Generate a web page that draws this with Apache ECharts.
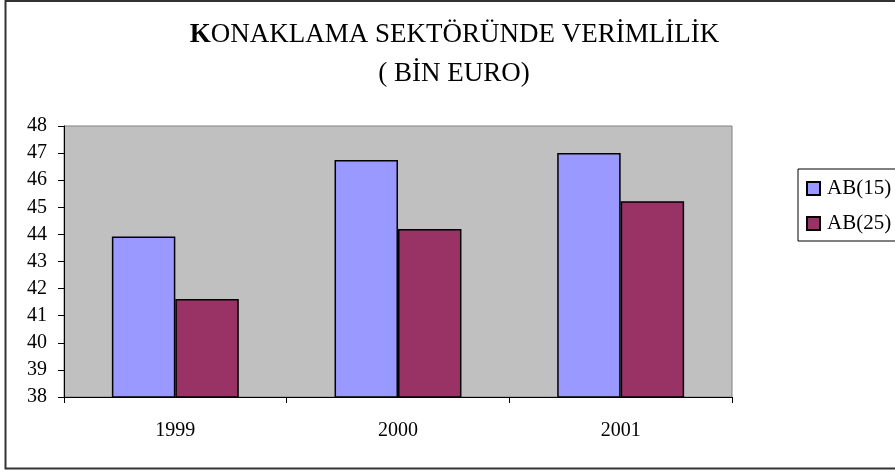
<!DOCTYPE html>
<html>
<head>
<meta charset="utf-8">
<script src="https://cdn.jsdelivr.net/npm/echarts@6/dist/echarts.min.js"></script>
<style>
html,body{margin:0;padding:0;background:#fff;}
#chart{width:895px;height:472px;}
</style>
</head>
<body>
<div id="chart"></div>
<script>
const categories = ['1999', '2000', '2001'];
const seriesNames = ['AB(15)', 'AB(25)'];
const ab15Values = [43.92, 46.75, 47.0];
const ab25Values = [41.62, 44.2, 45.22];
const yMin = 38;
const yMax = 48;
const yInterval = 1;
const titleLine1 = '{b|K}ONAKLAMA SEKTÖRÜNDE VERİMLİLİK';
const titleLine2 = '( BİN EURO)';

const FONT = '"Liberation Serif", "Times New Roman", serif';
const chart = echarts.init(document.getElementById('chart'), null, {renderer: 'canvas'});

const option = {
  backgroundColor: '#ffffff',
  animation: false,
  textStyle: {fontFamily: FONT, color: '#000'},
  graphic: [
    {
      type: 'rect', silent: true, z: -10,
      shape: {x: 5.5, y: 1, width: 900, height: 467.5},
      style: {fill: '#ffffff', stroke: '#333333', lineWidth: 2}
    },
    {
      type: 'text', silent: true,
      x: 454.5, y: 35,
      style: {
        text: titleLine1,
        fontFamily: FONT, fontSize: 27, fill: '#000',
        align: 'center', verticalAlign: 'middle',
        rich: {b: {fontFamily: FONT, fontSize: 27, fontWeight: 'bold', fill: '#000'}}
      }
    },
    {
      type: 'text', silent: true,
      x: 454, y: 74,
      style: {
        text: titleLine2,
        fontFamily: FONT, fontSize: 27, fill: '#000',
        align: 'center', verticalAlign: 'middle'
      }
    }
  ],
  legend: {
    orient: 'vertical',
    left: 798, top: 169,
    padding: [9, 10, 7, 8],
    itemGap: 14,
    itemWidth: 13, itemHeight: 13,
    icon: 'rect',
    borderColor: '#000', borderWidth: 1,
    backgroundColor: '#fff',
    textStyle: {fontFamily: FONT, fontSize: 21, color: '#000', padding: [0, 0, 0, 2]},
    data: seriesNames
  },
  grid: {
    left: 64, right: 163, top: 126, bottom: 75,
    show: true, backgroundColor: '#C0C0C0', borderColor: '#808080', borderWidth: 1
  },
  xAxis: {
    type: 'category',
    data: categories,
    boundaryGap: true,
    axisLine: {show: true, lineStyle: {color: '#000', width: 1}},
    axisTick: {show: true, length: 6, lineStyle: {color: '#000'}},
    axisLabel: {fontFamily: FONT, fontSize: 20, color: '#000', margin: 24},
    splitLine: {show: false}
  },
  yAxis: {
    type: 'value',
    min: yMin, max: yMax, interval: yInterval,
    axisLine: {show: true, lineStyle: {color: '#000', width: 1}},
    axisTick: {show: true, length: 6, lineStyle: {color: '#000'}},
    axisLabel: {fontFamily: FONT, fontSize: 20, color: '#000', margin: 17},
    splitLine: {show: false}
  },
  series: [
    {
      name: seriesNames[0], type: 'bar', data: ab15Values,
      barGap: '0%', barCategoryGap: '43%',
      itemStyle: {color: '#9999FF', borderColor: '#000', borderWidth: 1.5}
    },
    {
      name: seriesNames[1], type: 'bar', data: ab25Values,
      barGap: '0%', barCategoryGap: '43%',
      itemStyle: {color: '#993366', borderColor: '#000', borderWidth: 1.5}
    }
  ]
};
chart.setOption(option);
</script>
</body>
</html>
